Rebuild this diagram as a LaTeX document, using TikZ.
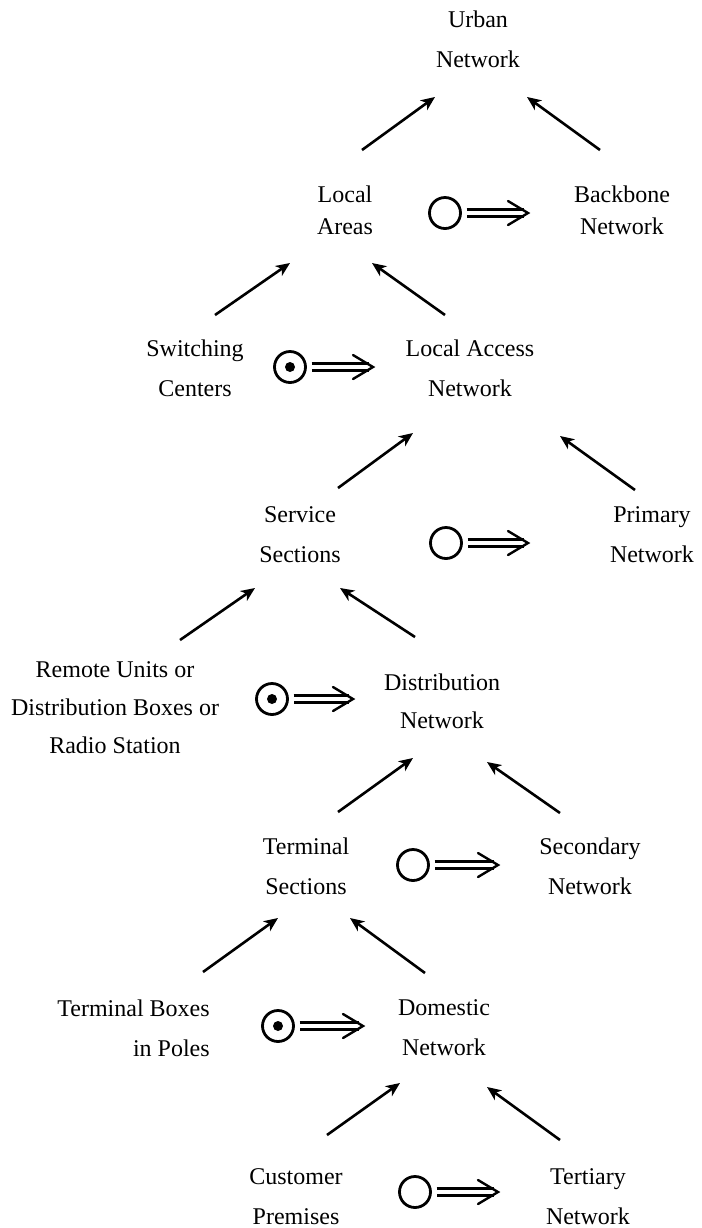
\documentclass[tikz,border=0pt]{standalone}
\usepackage{fontspec}
\setmainfont{Liberation Serif}
\usetikzlibrary{arrows.meta}

\begin{document}
\begin{tikzpicture}[x=0.5pt, y=-0.5pt, >={Stealth[length=7pt,width=6pt,inset=2pt]},
	line width=1.3pt,
	every node/.style={font=\fontsize{12}{20}\selectfont},
	term/.style={align=center, inner sep=0pt},
	isa/.style={circle, draw, line width=1.4pt, minimum size=15.5pt, inner sep=0pt, outer sep=3pt},
	partof/.style={isa, path picture={\fill (path picture bounding box.center) circle (2.5pt);}},
	implies/.style={double, double distance=2.2pt, line width=1.2pt, shorten >=2pt},
	chevron/.style={line width=1.2pt, line cap=round, line join=miter}]
	\useasboundingbox (0,0) rectangle (702,1228);

	%% Terms
	\node [term] (urban) at (478,39) {Urban\\Network};
	\node [term,font=\fontsize{12}{16}\selectfont] (local) at (345,210) {Local\\Areas};
	\node [term,font=\fontsize{12}{16}\selectfont] (backbone) at (622,210) {Backbone\\Network};
	\node [term] (switching) at (195,368) {Switching\\Centers};
	\node [term] (access) at (470,368) {Local Access\\Network};
	\node [term] (service) at (300,535) {Service\\Sections};
	\node [term] (primary) at (652,535) {Primary\\Network};
	\node [term,font=\fontsize{12}{19}\selectfont] (remote) at (115,708) {Remote Units or\\Distribution Boxes or\\Radio Station};
	\node [term,font=\fontsize{12}{19}\selectfont] (distrib) at (442,701) {Distribution\\Network};
	\node [term] (terminal) at (306,866) {Terminal\\Sections};
	\node [term] (secondary) at (590,866) {Secondary\\Network};
	\node [term,align=right,anchor=east] (boxes) at (211,1028) {Terminal Boxes\\in Poles};
	\node [term] (domestic) at (444,1028) {Domestic\\Network};
	\node [term] (customer) at (296,1197) {Customer\\Premises};
	\node [term] (tertiary) at (588,1197) {Tertiary\\Network};

	%% Generalisation and aggregation marks
	\node [isa] (c1) at (445,213) {};
	\node [partof] (c2) at (290,367) {};
	\node [isa] (c3) at (446,543) {};
	\node [partof] (c4) at (272,699) {};
	\node [isa] (c5) at (413,865) {};
	\node [partof] (c6) at (278,1026) {};
	\node [isa] (c7) at (415,1192) {};

	\coordinate (c1-t) at (528,213);
	\coordinate (c2-t) at (373,367);
	\coordinate (c3-t) at (528,543);
	\coordinate (c4-t) at (353,699);
	\coordinate (c5-t) at (498,865);
	\coordinate (c6-t) at (363,1026);
	\coordinate (c7-t) at (498,1192);
	\foreach \c in {c1,c2,c3,c4,c5,c6,c7} {
		\draw[implies] (\c) -- (\c-t);
		\draw[chevron] ([shift={(-20,-12)}]\c-t) -- (\c-t) -- ([shift={(-20,12)}]\c-t);
	}

	%% Arrow ends
	\coordinate (urban-l) at (435,97);       \coordinate (urban-r) at (527,97);
	\coordinate (local-o) at (362,150);      \coordinate (backbone-o) at (600,150);
	\coordinate (local-l) at (290,263);      \coordinate (local-r) at (372,263);
	\coordinate (switching-o) at (215,315);  \coordinate (access-o) at (445,315);
	\coordinate (access-l) at (413,433);     \coordinate (access-r) at (560,436);
	\coordinate (service-o) at (338,488);    \coordinate (primary-o) at (635,490);
	\coordinate (service-l) at (255,588);    \coordinate (service-r) at (340,588);
	\coordinate (remote-o) at (180,640);     \coordinate (distrib-o) at (415,637);
	\coordinate (distrib-l) at (413,758);    \coordinate (distrib-r) at (487,762);
	\coordinate (terminal-o) at (338,812);   \coordinate (secondary-o) at (560,813);
	\coordinate (terminal-l) at (278,918);   \coordinate (terminal-r) at (350,918);
	\coordinate (boxes-o) at (203,972);      \coordinate (domestic-o) at (425,973);
	\coordinate (domestic-l) at (400,1083);  \coordinate (domestic-r) at (487,1087);
	\coordinate (customer-o) at (327,1135);  \coordinate (tertiary-o) at (560,1140);

	%% Composition arrows
	\draw[->] (local-o) -- (urban-l);
	\draw[->] (backbone-o) -- (urban-r);
	\draw[->] (switching-o) -- (local-l);
	\draw[->] (access-o) -- (local-r);
	\draw[->] (service-o) -- (access-l);
	\draw[->] (primary-o) -- (access-r);
	\draw[->] (remote-o) -- (service-l);
	\draw[->] (distrib-o) -- (service-r);
	\draw[->] (terminal-o) -- (distrib-l);
	\draw[->] (secondary-o) -- (distrib-r);
	\draw[->] (boxes-o) -- (terminal-l);
	\draw[->] (domestic-o) -- (terminal-r);
	\draw[->] (customer-o) -- (domestic-l);
	\draw[->] (tertiary-o) -- (domestic-r);
\end{tikzpicture}
\end{document}
